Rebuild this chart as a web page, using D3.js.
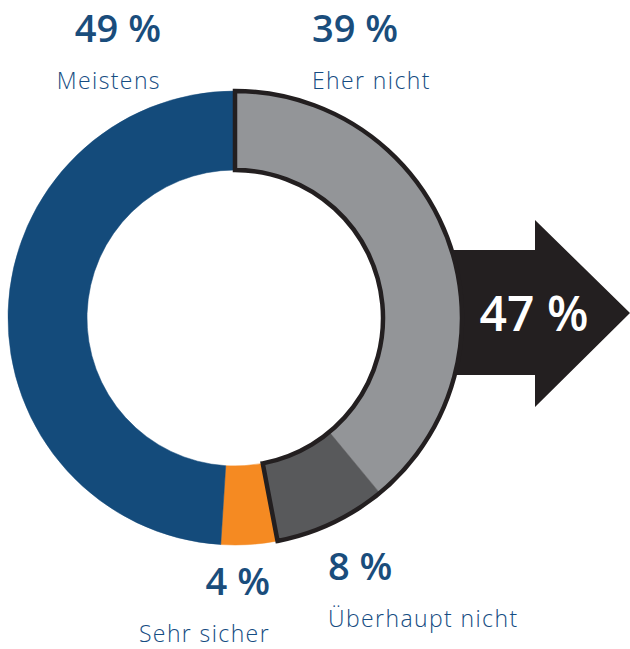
<!DOCTYPE html>
<html>
<head>
<meta charset="utf-8">
<script src="https://cdn.jsdelivr.net/npm/d3@7"></script>
<style>
  html, body { margin: 0; padding: 0; background: #fff; }
  svg { display: block; }
  .pct { font-family: "Open Sans", sans-serif; font-weight: 600; fill: #1a4d7c; }
  .lbl { font-family: "Open Sans", sans-serif; font-weight: 300; fill: #154c82; letter-spacing: 1.4px; }
</style>
</head>
<body>
<div id="chart"></div>
<script>
  var categories = ["Eher nicht", "Überhaupt nicht", "Sehr sicher", "Meistens"];
  var values = [39, 8, 4, 49];
  var colors = ["#939598", "#58595b", "#f58a22", "#144b7b"];
  // the two "nicht" answers together
  var groupTotal = 47;

  var width = 630, height = 649;
  var cx = 235, cy = 318, outerR = 227, innerR = 148;

  var svg = d3.select("#chart").append("svg")
    .attr("width", width)
    .attr("height", height);

  var g = svg.append("g").attr("transform", "translate(" + cx + "," + cy + ")");

  // arrow sits behind the ring
  var arrowPts = [
    [400 - cx, 250 - cy], [535 - cx, 250 - cy], [535 - cx, 220 - cy],
    [630 - cx, 313 - cy], [535 - cx, 407 - cy], [535 - cx, 375 - cy],
    [400 - cx, 375 - cy]
  ];
  g.append("path")
    .attr("d", d3.line()(arrowPts) + "Z")
    .attr("fill", "#231f20");

  g.append("text")
    .attr("x", 534 - cx)
    .attr("y", 331 - cy)
    .attr("text-anchor", "middle")
    .attr("font-family", "'Open Sans', sans-serif")
    .attr("font-weight", 600)
    .attr("font-size", 48)
    .attr("fill", "#fff")
    .text(groupTotal + " %");

  var pie = d3.pie().sort(null).value(function(d) { return d; });
  var arcs = pie(values);
  var arc = d3.arc().innerRadius(innerR).outerRadius(outerR);

  g.selectAll("path.slice")
    .data(arcs)
    .enter().append("path")
    .attr("class", "slice")
    .attr("d", arc)
    .attr("fill", function(d, i) { return colors[i]; })
    .attr("stroke", function(d, i) { return colors[i]; })
    .attr("stroke-width", 0.5);

  // outline around the combined "nicht" share
  var groupEnd = arcs[1].endAngle;
  g.append("path")
    .attr("d", arc({startAngle: 0, endAngle: groupEnd}))
    .attr("fill", "none")
    .attr("stroke", "#231f20")
    .attr("stroke-width", 4.5)
    .attr("stroke-linejoin", "miter");

  // labels
  var labels = [
    {i: 0, x: 312, y1: 42, y2: 89, anchor: "start"},
    {i: 1, x: 328, y1: 580, y2: 627, anchor: "start"},
    {i: 2, x: 270, y1: 595, y2: 642, anchor: "end"},
    {i: 3, x: 161, y1: 42, y2: 89, anchor: "end"}
  ];

  labels.forEach(function(l) {
    svg.append("text")
      .attr("class", "pct")
      .attr("x", l.x)
      .attr("y", l.y1)
      .attr("text-anchor", l.anchor)
      .attr("font-size", 38)
      .text(values[l.i] + " %");
    svg.append("text")
      .attr("class", "lbl")
      .attr("x", l.x)
      .attr("y", l.y2)
      .attr("text-anchor", l.anchor)
      .attr("font-size", 23)
      .text(categories[l.i]);
  });
</script>
</body>
</html>
